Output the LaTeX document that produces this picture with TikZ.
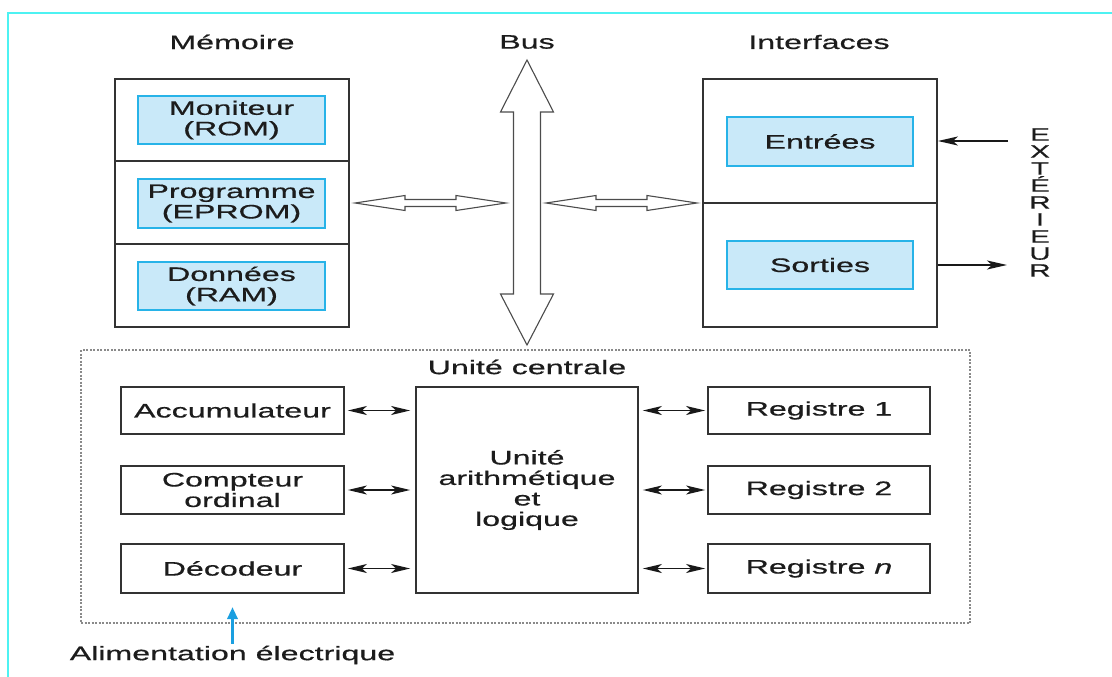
\documentclass[tikz,border=0pt]{standalone}
\usepackage{fontspec}
\setmainfont{Liberation Sans}[FakeStretch=1.65, FakeBold=0.6]
\usetikzlibrary{arrows.meta}
\definecolor{ink}{HTML}{1C1C1C}
\definecolor{boxline}{HTML}{333333}
\definecolor{cellfill}{HTML}{C9E9F9}
\definecolor{celledge}{HTML}{27B3E8}
\definecolor{aqua}{HTML}{4DF2F2}
\definecolor{power}{HTML}{1A9FE0}
\definecolor{dashgray}{HTML}{8A8A8A}

\begin{document}
\begin{tikzpicture}[x=1pt,y=-1pt,
  every node/.style={font=\fontsize{19.5}{20.5}\selectfont, text=ink, inner sep=0pt},
  block/.style={draw=boxline, line width=1.8pt, rectangle, align=center},
  cell/.style={draw=celledge, fill=cellfill, line width=1.6pt, rectangle, align=center, minimum width=187pt},
  hollow/.style={draw=black!70, line width=1.1pt, fill=white, line join=miter},
  link/.style={draw=black!90, line width=1.4pt,
    {Stealth[length=19pt,width=9pt,inset=5pt]}-{Stealth[length=19pt,width=9pt,inset=5pt]}},
  io/.style={draw=black!90, line width=1.9pt, -{Stealth[length=20pt,width=9pt,inset=5pt]}},
]
\useasboundingbox (0,0) rectangle (1112,677);

% page frame
\draw[aqua, line width=2.5pt] (8,677) -- (8,13) -- (1112,13);

% column titles
\node (tmem) at (232,42) {Mémoire};
\node (tbus) at (527,42) {Bus};
\node (tif)  at (819,42) {Interfaces};

% memory block
\node[block, minimum width=234pt, minimum height=82pt] (memA) at (232,120) {};
\node[block, minimum width=234pt, minimum height=83pt] (memB) at (232,202.5) {};
\node[block, minimum width=234pt, minimum height=83pt] (memC) at (232,285.5) {};
\node[cell, minimum height=48pt] (rom)   at (231.5,120)   {Moniteur\\(ROM)};
\node[cell, minimum height=49pt] (eprom) at (231.5,203.5) {Programme\\(EPROM)};
\node[cell, minimum height=48pt] (ram)   at (231.5,286)   {Données\\(RAM)};

% interface block
\node[block, minimum width=234pt, minimum height=124pt] (ifA) at (820,141) {};
\node[block, minimum width=234pt, minimum height=124pt] (ifB) at (820,265) {};
\node[cell, minimum width=186pt, minimum height=49pt] (inp) at (820,141.5) {Entrées};
\node[cell, minimum width=186pt, minimum height=48pt] (outp) at (820,265) {Sorties};

% outside world
\node[font=\fontsize{18}{17}\selectfont, align=center] (ext) at (1040,202.5)
  {E\\X\\T\\É\\R\\I\\E\\U\\R};
\coordinate (extin)  at (1008,141);
\coordinate (extout) at (1007,265);
\draw[io] (extin) -- (extin -| ifA.east);
\draw[io] (outp.east -| ifB.east) -- (extout);

% bus (hollow double arrow)
\coordinate (busTop) at (527,60);
\coordinate (busBot) at (527,345);
\draw[hollow] (busTop) -- (553.5,112) -- (540.5,112) -- (540.5,294) -- (553.5,294)
  -- (busBot) -- (500.5,294) -- (513.5,294) -- (513.5,112) -- (500.5,112) -- cycle;

% memory <-> bus and bus <-> interfaces
\coordinate (mbL) at (355,203);
\coordinate (mbR) at (506,203);
\draw[hollow] (mbL) -- (405,195.5) -- (405,199.5) -- (456,199.5) -- (456,195.5) -- (mbR)
  -- (456,210.5) -- (456,206.5) -- (405,206.5) -- (405,210.5) -- cycle;
\coordinate (biL) at (546,203);
\coordinate (biR) at (697,203);
\draw[hollow] (biL) -- (596,195.5) -- (596,199.5) -- (647,199.5) -- (647,195.5) -- (biR)
  -- (647,210.5) -- (647,206.5) -- (596,206.5) -- (596,210.5) -- cycle;

% central unit
\node[draw=dashgray, line width=1.2pt, dash pattern=on 2pt off 1.5pt,
      minimum width=889pt, minimum height=273pt] (uc) at (525.5,486.5) {};
\node (tuc) at (527,367) {Unité centrale};

\node[block, minimum width=223pt, minimum height=47pt] (acc) at (232.5,410.5) {Accumulateur};
\node[block, minimum width=223pt, minimum height=48pt] (cpt) at (232.5,490) {Compteur\\ordinal};
\node[block, minimum width=223pt, minimum height=49pt] (dec) at (232.5,568.5) {Décodeur};

\node[block, minimum width=222pt, minimum height=206pt] (alu) at (527,490)
  {Unité\\arithmétique\\et\\logique};

\node[block, minimum width=222pt, minimum height=47pt] (r1) at (819,410.5) {Registre 1};
\node[block, minimum width=222pt, minimum height=48pt] (r2) at (819,490) {Registre 2};
\node[block, minimum width=222pt, minimum height=49pt] (rn) at (819,568.5) {Registre \textit{n}};

\foreach \b in {acc,cpt,dec}
  \draw[link, shorten <=3pt, shorten >=5pt] (\b.east) -- (\b.east -| alu.west);
\foreach \b in {r1,r2,rn}
  \draw[link, shorten <=4pt, shorten >=2pt] (\b.west -| alu.east) -- (\b.west);

% power supply
\node (alim) at (232.5,655) {Alimentation électrique};
\coordinate (pwr) at (232.5,607);
\draw[power, line width=3pt, -{Triangle[length=12pt,width=10pt]}, shorten <=2pt] (alim.north) -- (pwr);

\end{tikzpicture}
\end{document}
